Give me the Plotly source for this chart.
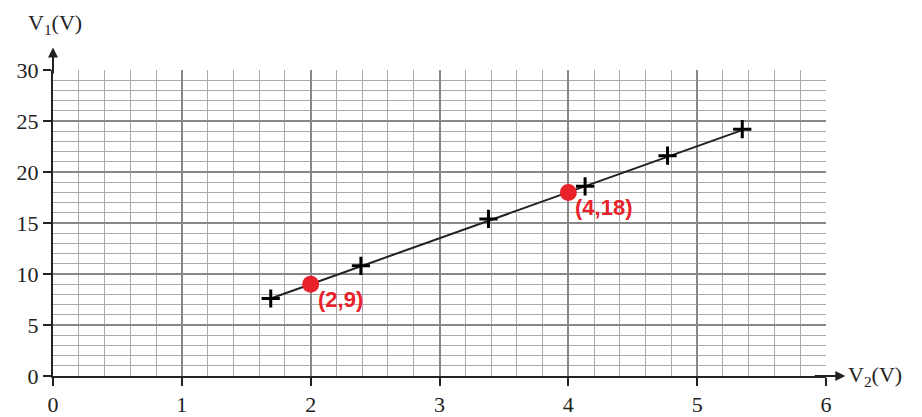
import plotly.graph_objects as go

# data
v2_meas = [1.69, 2.39, 3.38, 4.13, 4.77, 5.35]
v1_meas = [7.6, 10.8, 15.4, 18.6, 21.6, 24.2]
line_x = [1.69, 5.35]
line_y = [7.6, 24.1]
pts_x = [2, 4]
pts_y = [9, 18]
pts_labels = ["(2,9)", "(4,18)"]
x_ticks = [0, 1, 2, 3, 4, 5, 6]
y_ticks = [0, 5, 10, 15, 20, 25, 30]

serif = "Times New Roman, Liberation Serif, serif"
fig = go.Figure()
fig.add_trace(go.Scatter(x=line_x, y=line_y, mode="lines",
                         line=dict(color="#222", width=2), showlegend=False))
fig.add_trace(go.Scatter(x=v2_meas, y=v1_meas, mode="markers",
                         marker=dict(symbol="cross-thin", size=13,
                                     line=dict(color="black", width=3)),
                         showlegend=False))
fig.add_trace(go.Scatter(x=pts_x, y=pts_y, mode="markers",
                         marker=dict(color="#e8222b", size=17),
                         showlegend=False))

for x, y, t in zip(pts_x, pts_y, pts_labels):
    fig.add_annotation(x=x, y=y, text="<b>%s</b>" % t, showarrow=False,
                       xanchor="left", yanchor="top", xshift=5, yshift=-1,
                       font=dict(family="Liberation Sans", size=22, color="#e8222b"))

# axis arrows
fig.add_annotation(x=0, y=32.2, ax=0, ay=29.5, xref="x", yref="y", axref="x", ayref="y",
                   showarrow=True, arrowhead=2, arrowsize=1, arrowwidth=2, arrowcolor="#222", text="")
fig.add_annotation(x=6.15, y=0, ax=5.9, ay=0, xref="x", yref="y", axref="x", ayref="y",
                   showarrow=True, arrowhead=2, arrowsize=1, arrowwidth=2, arrowcolor="#222", text="")

# axis titles
fig.add_annotation(x=0, y=1.0, xref="x", yref="paper", yshift=30, xshift=2,
                   text="V<sub>1</sub>(V)", showarrow=False, xanchor="center", yanchor="bottom",
                   font=dict(family=serif, size=22, color="#222"))
fig.add_annotation(x=1.0, y=0, xref="paper", yref="y", xshift=20,
                   text="V<sub>2</sub>(V)", showarrow=False, xanchor="left", yanchor="middle",
                   font=dict(family=serif, size=22, color="#222"))

common = dict(ticks="outside", ticklen=8, tickwidth=1.5, tickcolor="#222",
              showline=True, linecolor="#222", linewidth=2,
              showgrid=True, gridcolor="#888", gridwidth=2, zeroline=False,
              automargin=False,
              tickfont=dict(family=serif, size=22, color="#222"))
fig.update_xaxes(range=[0, 6], tickvals=x_ticks,
                 minor=dict(dtick=0.2, showgrid=True, gridcolor="#aaaaaa", gridwidth=1.3),
                 **common)
fig.update_yaxes(range=[0, 30], tickvals=y_ticks,
                 minor=dict(dtick=1, showgrid=True, gridcolor="#aaaaaa", gridwidth=1.3),
                 **common)

fig.update_layout(width=914, height=409, margin=dict(l=45, r=96, t=62, b=41),
                  font=dict(family=serif, color="#222"),
                  plot_bgcolor="white", paper_bgcolor="white")
fig.write_html("out.html")
